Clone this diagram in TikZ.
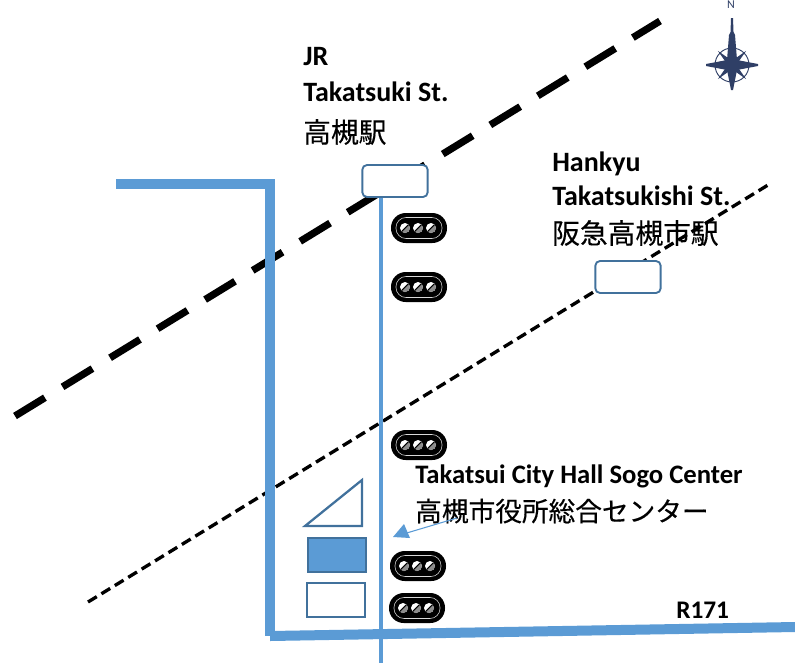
\documentclass[tikz,border=0pt]{standalone}
\usepackage{fontspec}
\setmainfont{Carlito}
\newfontfamily\cjk[FakeBold=0.4]{Noto Sans CJK JP}
\definecolor{roadblue}{HTML}{5B9BD5}
\definecolor{edgeblue}{HTML}{41719C}
\definecolor{navy}{HTML}{2F3F66}
\tikzset{
  road/.style={draw=roadblue,line width=7.5pt},
  thinroad/.style={draw=roadblue,line width=2.8pt},
  jrline/.style={draw=black,line width=5.4pt,dash pattern=on 26.3pt off 15.5pt},
  hkline/.style={draw=black,line width=2.5pt,dash pattern=on 7.7pt off 4.1pt},
  station/.style={draw=edgeblue,line width=1.4pt,fill=white,rounded corners=3.5pt,minimum width=49pt,minimum height=24pt,inner sep=0pt},
  bldg/.style={draw=edgeblue,line width=1.7pt,inner sep=0pt},
  lbl/.style={font=\bfseries\fontsize{21}{24}\selectfont,anchor=west,inner sep=0pt},
  hlbl/.style={font=\bfseries\fontsize{20}{24}\selectfont,anchor=west,inner sep=0pt},
  rlbl/.style={font=\bfseries\fontsize{19}{22}\selectfont,anchor=west,inner sep=0pt},
  jlbl/.style={font=\cjk\fontsize{20.8}{24}\selectfont,anchor=west,inner sep=0pt},
  jhlbl/.style={font=\cjk\fontsize{20}{24}\selectfont,anchor=west,inner sep=0pt},
  pill/.pic={
    \fill[black,rounded corners=11pt] (-28,-15) rectangle (28,15);
    \draw[white!85!black,line width=.4pt,rounded corners=7.5pt] (-23,-10.5) rectangle (23,10.5);
    \foreach \dx in {-14,-1,12}{
      \fill[white] (\dx,0) circle (5);
      \fill[black!45] (\dx+3.5,-3.5) arc[start angle=-45,end angle=135,radius=5] -- cycle;
      \draw[black,line width=.8pt] (\dx-3.5,3.5) -- (\dx+3.5,-3.5);
    }
  }
}
\begin{document}
\begin{tikzpicture}[x=0.75pt,y=-0.75pt]
\useasboundingbox (0,0) rectangle (795,665);
\coordinate (jrA) at (15,416);
\coordinate (jrB) at (660,21);
\coordinate (hkA) at (88,602);
\coordinate (hkB) at (768,185);
\coordinate (r1) at (116,184);
\coordinate (r2) at (270,184);
\coordinate (r3) at (270,636);
\coordinate (r4) at (795,627);
\coordinate (mainN) at (381,195);
\coordinate (mainS) at (381,663);
\draw[jrline] (jrA) -- (jrB);
\draw[hkline] (hkA) -- (hkB);
\draw[road] (r1) -- (r2) -- (r3);
\draw[road] (r3) -- (r4);
\draw[thinroad] (mainN) -- (mainS);
\node[station] (jr) at (395,181) {};
\node[station] (hk) at (628,277) {};
\path (419,228) pic {pill};
\path (419,287) pic {pill};
\path (419,445) pic {pill};
\path (418,566) pic {pill};
\path (417,608) pic {pill};
\coordinate (t1) at (305,526);
\coordinate (t2) at (362,526);
\coordinate (t3) at (362,480);
\draw[bldg,line join=miter] (t1) -- (t2) -- (t3) -- cycle;
\node[bldg,fill=roadblue,minimum width=44pt,minimum height=26pt] (hall) at (337,555) {};
\node[bldg,fill=white,minimum width=44pt,minimum height=25.5pt] (annex) at (336,600) {};
\node[lbl] (l1) at (303,57) {JR};
\node[lbl] (l2) at (303,92) {Takatsuki St.};
\node[jlbl] (l3) at (303,132) {高槻駅};
\node[lbl] (l4) at (552,164) {Hankyu};
\node[lbl] (l5) at (552,196) {Takatsukishi St.};
\node[jlbl] (l6) at (552,233) {阪急高槻市駅};
\node[hlbl] (l7) at (415,476) {Takatsui City Hall Sogo Center};
\node[jhlbl] (l8) at (415,511) {高槻市役所総合センター};
\node[rlbl] (l9) at (676,610) {R171};
\coordinate (arrS) at (457,518);
\coordinate (arrE) at (393,537);
\draw[draw=roadblue,line width=.8pt] (arrS) -- (405,533.5);
\fill[roadblue] (arrE) -- (404,524) -- (410,538) -- cycle;
% compass
\begin{scope}[shift={(732,65)}]
\node[font=\fontsize{9}{10}\selectfont,text=navy,inner sep=0pt] (north) at (-1,-60) {N};
\draw[navy,line width=.7pt] (0,0) circle (17);
\fill[navy] (-1,-47) -- (1,-47) -- (1.5,-33) -- (3,-30) -- (5,-5) -- (26,-1) -- (26,1) -- (5,5) -- (1,25) -- (-1,25) -- (-5,5) -- (-26,1) -- (-26,-1) -- (-5,-5) -- (-3,-30) -- (-1.5,-33) -- cycle;
\foreach \a in {45,135,225,315}
  \fill[navy,rotate=\a] (-3.5,0) -- (0,-20) -- (3.5,0) -- cycle;
\fill[navy] (0,0) circle (7);
\end{scope}
\end{tikzpicture}
\end{document}
